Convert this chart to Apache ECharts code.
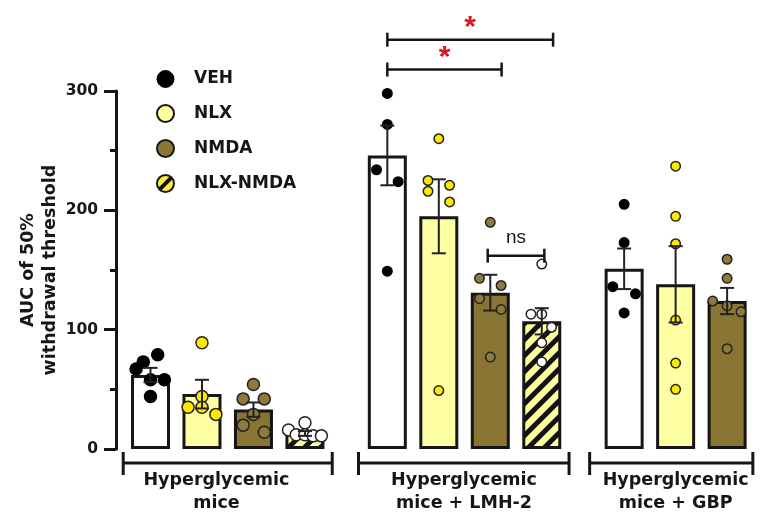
<!DOCTYPE html>
<html>
<head>
<meta charset="utf-8">
<script src="https://cdn.jsdelivr.net/npm/echarts@6/dist/echarts.min.js"></script>
<style>
html, body { margin: 0; padding: 0; background: #fff; }
#chart { width: 761px; height: 515px; }
</style>
</head>
<body>
<div id="chart"></div>
<script>
var chart = echarts.init(document.getElementById('chart'));

var treatments = ['VEH', 'NLX', 'NMDA', 'NLX-NMDA'];
var groupLabels = ['Hyperglycemic\nmice', 'Hyperglycemic\nmice + LMH-2', 'Hyperglycemic\nmice + GBP'];

// where each bar sits on the x scale, one entry per group
var vehSlot = [0, 4.6, 9.2];
var nlxSlot = [1, 5.6, 10.2];
var nmdaSlot = [2, 6.6, 11.2];
var comboSlot = [3, 7.6];

var vehMean = [62, 246, 151];
var nlxMean = [46, 195, 138];
var nmdaMean = [33, 131, 124];
var comboMean = [13, 107];

var vehSem = [6, 25, 17];
var nlxSem = [12, 31, 32];
var nmdaSem = [6, 15, 11];
var comboSem = [2, 11];

// individual animals
var vehPts = [[79, 73, 67, 58, 58, 44], [298, 272, 234, 224, 149], [205, 173, 136, 130, 114]];
var vehJit = [[0.14, -0.14, -0.28, 0, 0.27, 0], [0, 0, -0.21, 0.21, 0], [0, 0, -0.22, 0.22, 0]];
var nlxPts = [[89, 44, 35, 35, 29], [260, 225, 221, 216, 207, 49], [237, 195, 172, 108, 72, 50]];
var nlxJit = [[0, 0, -0.27, 0, 0.27], [0, -0.21, 0.21, -0.21, 0.21, 0], [0, 0, 0, 0, 0, 0]];
var nmdaPts = [[54, 42, 42, 29, 20, 14], [190, 143, 137, 126, 117, 77], [159, 143, 124, 120, 115, 84]];
var nmdaJit = [[0, -0.2, 0.21, 0, -0.2, 0.21], [0, -0.21, 0.21, -0.21, 0.21, 0], [0, 0, -0.28, 0, 0.27, 0]];
var comboPts = [[22, 16, 12, 12, 11, 11], [155, 113, 113, 102, 89, 73]];
var comboJit = [[0, -0.32, -0.17, 0, 0.16, 0.32], [0, -0.21, 0, 0.19, 0, 0]];

// comparisons drawn above the LMH-2 group
var sigFrom = [4.6, 4.6, 6.55];
var sigTo = [7.82, 6.82, 7.65];
var sigAt = [343, 318, 162];
var sigText = ['*', '*', 'ns'];

// group brackets under the bars
var groupFrom = [-0.53, 4.04, 8.53];
var groupTo = [3.53, 8.13, 11.7];
var groupMid = [1.28, 6.09, 10.2];

var FONT = '"DejaVu Sans", "Liberation Sans", Arial, sans-serif';
var INK = '#161616';

function stripes(size, bg, fg, lw) {
    var c = document.createElement('canvas');
    c.width = size;
    c.height = size;
    var ctx = c.getContext('2d');
    ctx.fillStyle = bg;
    ctx.fillRect(0, 0, size, size);
    ctx.strokeStyle = fg;
    ctx.lineWidth = lw;
    ctx.beginPath();
    ctx.moveTo(-size / 2, size / 2); ctx.lineTo(size / 2, -size / 2);
    ctx.moveTo(0, size); ctx.lineTo(size, 0);
    ctx.moveTo(size / 2, size * 1.5); ctx.lineTo(size * 1.5, size / 2);
    ctx.stroke();
    return c;
}
var hatch = { image: stripes(16, '#ffff9c', '#111', 5), repeat: 'repeat' };
var hatchIcon = { image: stripes(17, '#ffee33', '#111', 4), repeat: 'repeat' };

function barData(slot, mean) {
    return slot.map(function (x, i) { return [x, mean[i]]; });
}
function pointData(slot, pts, jit) {
    var out = [];
    pts.forEach(function (vals, g) {
        vals.forEach(function (v, k) { out.push([slot[g] + jit[g][k], v, g]); });
    });
    return out;
}
function errData(slot, mean, sem) {
    return slot.map(function (x, i) { return [x, mean[i], sem[i]]; });
}

function barSeries(name, slot, mean, fill) {
    return {
        name: name, type: 'bar', z: 2,
        barWidth: 39, barGap: '-100%',
        data: barData(slot, mean),
        itemStyle: { color: fill, borderColor: INK, borderWidth: 3 },
        emphasis: { disabled: true }
    };
}
function dotSeries(name, slot, pts, jit, fill, stroke) {
    return {
        name: name, type: 'scatter', z: 3,
        data: pointData(slot, pts, jit),
        symbolSize: function (v) { return v[2] === 0 ? 12 : 9.5; },
        itemStyle: { color: fill, borderColor: stroke, borderWidth: 1.5, opacity: 1 },
        emphasis: { disabled: true }
    };
}

var errAll = errData(vehSlot, vehMean, vehSem)
    .concat(errData(nlxSlot, nlxMean, nlxSem))
    .concat(errData(nmdaSlot, nmdaMean, nmdaSem))
    .concat(errData(comboSlot, comboMean, comboSem));

var option = {
    animation: false,
    grid: { left: 116, right: 3, top: 91, bottom: 66 },
    legend: {
        orient: 'vertical', left: 151, top: 65,
        icon: 'circle', itemWidth: 17, itemHeight: 17, itemGap: 16,
        selectedMode: false,
        textStyle: { fontFamily: FONT, fontWeight: 'bold', fontSize: 17, color: INK, padding: [0, 0, 0, 15], lineHeight: 17 },
        data: [
            { name: 'VEH', itemStyle: { color: '#000', borderColor: '#000', borderWidth: 1 } },
            { name: 'NLX', itemStyle: { color: '#ffffa0', borderColor: INK, borderWidth: 2 } },
            { name: 'NMDA', itemStyle: { color: '#8c7636', borderColor: INK, borderWidth: 2 } },
            { name: 'NLX-NMDA', itemStyle: { color: hatchIcon, borderColor: INK, borderWidth: 2 } }
        ]
    },
    xAxis: { type: 'value', min: -0.67, max: 11.8, show: false },
    yAxis: {
        type: 'value', min: 0, max: 300, interval: 100,
        name: 'AUC of 50%\nwithdrawal threshold',
        nameLocation: 'middle', nameRotate: 90, nameGap: 55, nameMoveOverlap: false,
        nameTextStyle: { fontFamily: FONT, fontWeight: 'bold', fontSize: 17.5, color: INK, lineHeight: 22 },
        axisLine: { show: true, onZero: false, lineStyle: { color: INK, width: 3 } },
        axisTick: { show: true, length: 12, lineStyle: { color: INK, width: 3 } },
        minorTick: { show: true, splitNumber: 2, length: 6, lineStyle: { color: INK, width: 3 } },
        splitLine: { show: false },
        axisLabel: { fontFamily: FONT, fontWeight: 'bold', fontSize: 15.5, color: INK, margin: 18 }
    },
    series: [
        barSeries('VEH', vehSlot, vehMean, '#ffffff'),
        barSeries('NLX', nlxSlot, nlxMean, '#ffffa3'),
        barSeries('NMDA', nmdaSlot, nmdaMean, '#8a7434'),
        barSeries('NLX-NMDA', comboSlot, comboMean, hatch),
        dotSeries('VEH', vehSlot, vehPts, vehJit, '#000', '#000'),
        dotSeries('NLX', nlxSlot, nlxPts, nlxJit, '#ffe800', '#222'),
        dotSeries('NMDA', nmdaSlot, nmdaPts, nmdaJit, '#8f7a3c', '#222'),
        dotSeries('NLX-NMDA', comboSlot, comboPts, comboJit, '#ffffff', '#222'),
        {
            type: 'custom', z: 4, clip: false, silent: true,
            data: errAll,
            renderItem: function (params, api) {
                var x = api.value(0), m = api.value(1), s = api.value(2);
                var top = api.coord([x, m + s]);
                var bot = api.coord([x, m - s]);
                var hw = 7;
                var st = { stroke: '#222', lineWidth: 2 };
                return {
                    type: 'group', children: [
                        { type: 'line', shape: { x1: top[0], y1: top[1], x2: bot[0], y2: bot[1] }, style: st },
                        { type: 'line', shape: { x1: top[0] - hw, y1: top[1], x2: top[0] + hw, y2: top[1] }, style: st },
                        { type: 'line', shape: { x1: bot[0] - hw, y1: bot[1], x2: bot[0] + hw, y2: bot[1] }, style: st }
                    ]
                };
            }
        },
        {
            type: 'custom', z: 5, clip: false, silent: true,
            data: sigFrom.map(function (f, i) { return [f, sigTo[i], sigAt[i]]; }),
            renderItem: function (params, api) {
                var a = api.coord([api.value(0), api.value(2)]);
                var b = api.coord([api.value(1), api.value(2)]);
                var st = { stroke: INK, lineWidth: 2.5 };
                var t = sigText[params.dataIndex];
                var star = t === '*';
                return {
                    type: 'group', children: [
                        { type: 'line', shape: { x1: a[0], y1: a[1], x2: b[0], y2: b[1] }, style: st },
                        { type: 'line', shape: { x1: a[0], y1: a[1] - 7, x2: a[0], y2: a[1] + 7 }, style: st },
                        { type: 'line', shape: { x1: b[0], y1: b[1] - 7, x2: b[0], y2: b[1] + 7 }, style: st },
                        {
                            type: 'text', x: (a[0] + b[0]) / 2, y: a[1] - (star ? 12 : 18),
                            style: {
                                text: t, align: 'center', verticalAlign: 'middle',
                                fontFamily: '"Liberation Sans", Arial, sans-serif', fontWeight: star ? 'bold' : 'normal',
                                fontSize: star ? 30 : 19, fill: star ? '#e0141c' : INK
                            }
                        }
                    ]
                };
            }
        },
        {
            type: 'custom', z: 5, clip: false, silent: true,
            data: groupFrom.map(function (f, i) { return [f, groupTo[i], groupMid[i]]; }),
            renderItem: function (params, api) {
                var a = api.coord([api.value(0), 0]);
                var b = api.coord([api.value(1), 0]);
                var m = api.coord([api.value(2), 0]);
                var y = a[1] + 14;
                var st = { stroke: INK, lineWidth: 3 };
                return {
                    type: 'group', children: [
                        { type: 'line', shape: { x1: a[0], y1: y, x2: b[0], y2: y }, style: st },
                        { type: 'line', shape: { x1: a[0], y1: y - 11, x2: a[0], y2: y + 12 }, style: st },
                        { type: 'line', shape: { x1: b[0], y1: y - 11, x2: b[0], y2: y + 12 }, style: st },
                        {
                            type: 'text', x: m[0], y: a[1] + 20,
                            style: {
                                text: groupLabels[params.dataIndex], align: 'center', verticalAlign: 'top',
                                fontFamily: FONT, fontWeight: 'bold', fontSize: 17.5, lineHeight: 23, fill: INK
                            }
                        }
                    ]
                };
            }
        }
    ]
};

chart.setOption(option);
</script>
</body>
</html>
